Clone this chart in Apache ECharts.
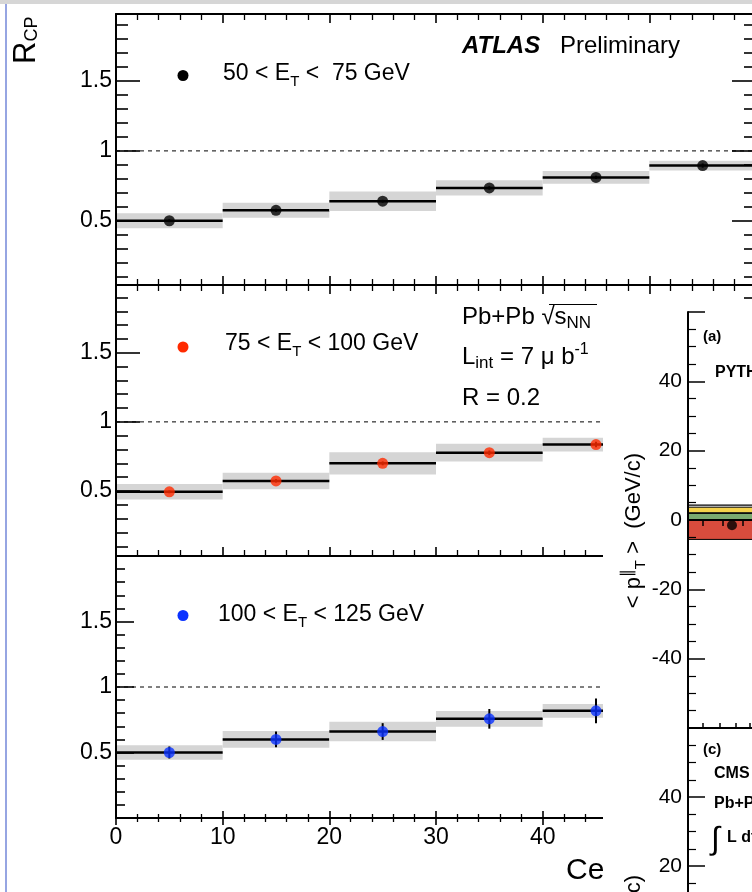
<!DOCTYPE html>
<html><head><meta charset="utf-8">
<script src="https://cdn.jsdelivr.net/npm/echarts@6/dist/echarts.min.js"></script>
<style>html,body{margin:0;padding:0;background:#fff}#c{width:752px;height:892px}</style>
</head><body><div id="c"></div>
<script>
// ---------- data ----------
const binLo  = [0, 10, 20, 30, 40, 50];
const binHi  = [10, 20, 30, 40, 50, 60];
const binMid = [5, 15, 25, 35, 45, 55];

const rcpEt50  = [0.50, 0.575, 0.64, 0.735, 0.81, 0.895];
const sysEt50  = [0.053, 0.054, 0.07, 0.055, 0.046, 0.035];
const statEt50 = [0.01, 0.01, 0.01, 0.012, 0.012, 0.015];

const rcpEt75  = [0.494, 0.573, 0.70, 0.777, 0.836];
const sysEt75  = [0.056, 0.06, 0.08, 0.064, 0.05];
const statEt75 = [0.01, 0.012, 0.014, 0.016, 0.02];

const rcpEt100  = [0.50, 0.60, 0.66, 0.757, 0.818];
const sysEt100  = [0.056, 0.064, 0.074, 0.06, 0.053];
const statEt100 = [0.046, 0.06, 0.064, 0.075, 0.095];

const yMajorTicks = [0.5, 1, 1.5];
const yMinorTicks = [0.1,0.2,0.3,0.4,0.6,0.7,0.8,0.9,1.1,1.2,1.3,1.4,1.6,1.7,1.8,1.9];
const xTickLabels = [0, 10, 20, 30, 40, 50, 60];

// CMS inset (partly visible)
const cmsYLabelsA = [-40, -20, 0, 20, 40];
const cmsYLabelsC = [20, 40];
const cmsBandLo = [-5.6, 0, 2.1];
const cmsBandHi = [0, 1.9, 3.7];
const cmsLineVals = [4.3];
const cmsPointX = [2.2];
const cmsPointY = [-1.5];
const cmsTopTicks = [0.75, 1.75, 2.75, 3.75];
const cmsMidTicks = [0.75, 1.6, 2.4, 3.1];

// ---------- style ----------
const FONT = '"Liberation Sans", Arial, Helvetica, sans-serif';
const bandColors = ['#d84c3d', '#7ba96f', '#f5d24a'];

const chart = echarts.init(document.getElementById('c'), null, {renderer: 'canvas', width: 752, height: 892});

const grids = [], xAxes = [], yAxes = [], series = [];
function mkGrid(o) {
  return Object.assign({show: false, containLabel: false, outerBoundsMode: 'none'}, o);
}

function bandRender(params, api) {
  const lo = api.value(0), hi = api.value(1), v = api.value(2), s = api.value(3);
  const a = api.coord([lo, v + s]), b = api.coord([hi, v - s]);
  const l1 = api.coord([lo, v]), l2 = api.coord([hi, v]);
  return {type: 'group', children: [
    {type: 'rect', shape: {x: a[0], y: a[1], width: b[0] - a[0], height: b[1] - a[1]}, style: {fill: '#d5d5d5'}},
    {type: 'line', shape: {x1: l1[0], y1: l1[1], x2: l2[0], y2: l2[1]}, style: {stroke: '#000', lineWidth: 2.5}}
  ]};
}
function errRender(params, api) {
  const x = api.value(0), v = api.value(1), e = api.value(2);
  const p1 = api.coord([x, v + e]), p2 = api.coord([x, v - e]);
  return {type: 'line', shape: {x1: p1[0], y1: p1[1], x2: p2[0], y2: p2[1]}, style: {stroke: '#000', lineWidth: 2}};
}

function addPanel(p, vals, sys, stat, color) {
  const gi = grids.length;
  grids.push(mkGrid({left: 116, top: p.top, width: 640, height: p.height}));
  const axisLine = {show: true, lineStyle: {color: '#000', width: 2}};
  const tickStyle = {color: '#000', width: 1.6};
  const xBase = {type: 'value', gridIndex: gi, min: 0, max: 60, interval: 10, z: 10,
    axisLine, splitLine: {show: false}, minorSplitLine: {show: false},
    axisTick: {show: true, inside: true, length: p.xMaj, lineStyle: tickStyle},
    minorTick: {show: true, splitNumber: 5, length: p.xMin, lineStyle: {color: '#000', width: 1.3}}};
  const xb = xAxes.length;
  xAxes.push(Object.assign({}, xBase, {position: 'bottom',
    axisLabel: {show: p.showX, customValues: xTickLabels, fontSize: 23, fontFamily: FONT, color: '#000', margin: 8}}));
  xAxes.push(Object.assign({}, xBase, {position: 'top', axisLabel: {show: false}}));
  const yBase = {type: 'value', gridIndex: gi, min: p.min, max: p.max, z: 10, splitLine: {show: false}};
  const yl = yAxes.length;
  yAxes.push(Object.assign({}, yBase, {position: 'left', axisLine,
    axisTick: {show: true, inside: true, length: p.yMaj, customValues: yMajorTicks, lineStyle: tickStyle},
    axisLabel: {show: true, customValues: yMajorTicks, fontSize: 23, fontFamily: FONT, color: '#000', margin: 4,
      formatter: v => String(v)}}));
  yAxes.push(Object.assign({}, yBase, {position: 'left', axisLine: {show: false},
    axisTick: {show: true, inside: true, length: p.yMin, customValues: yMinorTicks, lineStyle: tickStyle},
    axisLabel: {show: false}}));
  yAxes.push(Object.assign({}, yBase, {position: 'right', axisLine,
    axisTick: {show: true, inside: true, length: p.yMaj, customValues: yMajorTicks, lineStyle: tickStyle},
    axisLabel: {show: false}}));
  yAxes.push(Object.assign({}, yBase, {position: 'right', axisLine: {show: false},
    axisTick: {show: true, inside: true, length: p.yMin, customValues: yMinorTicks, lineStyle: tickStyle},
    axisLabel: {show: false}}));

  series.push({type: 'custom', xAxisIndex: xb, yAxisIndex: yl, renderItem: bandRender, silent: true, z: 2,
    data: vals.map((v, i) => [binLo[i], binHi[i], v, sys[i]])});
  series.push({type: 'line', xAxisIndex: xb, yAxisIndex: yl, data: [[0, 1], [60, 1]], symbol: 'none', silent: true, z: 3,
    lineStyle: {color: '#000', width: 1, type: [4, 4]}});
  series.push({type: 'custom', xAxisIndex: xb, yAxisIndex: yl, renderItem: errRender, silent: true, z: 4,
    data: vals.map((v, i) => [binMid[i], v, stat[i]])});
  series.push({type: 'scatter', xAxisIndex: xb, yAxisIndex: yl, symbolSize: 11, silent: true, z: 5,
    itemStyle: {color: color}, data: vals.map((v, i) => [binMid[i], v])});
}

addPanel({top: 14, height: 271, min: 0.04, max: 1.98, yMaj: 24, yMin: 12, xMaj: 9, xMin: 6, showX: false},
  rcpEt50, sysEt50, statEt50, '#000000');
addPanel({top: 285, height: 271, min: 0.03, max: 1.99, yMaj: 24, yMin: 12, xMaj: 9, xMin: 6, showX: false},
  rcpEt75, sysEt75, statEt75, '#ff2a00');
addPanel({top: 556, height: 262, min: 0, max: 2.0, yMaj: 18, yMin: 9, xMaj: 7, xMin: 4, showX: true},
  rcpEt100, sysEt100, statEt100, '#0a32ff');

// ---------- CMS inset (overlaid, zlevel 1) ----------
const cmsAxisLine = {show: true, lineStyle: {color: '#000', width: 2}};
const giA = grids.length;
grids.push(mkGrid({left: 688, top: 312, width: 160, height: 416}));
const giC = grids.length;
grids.push(mkGrid({left: 688, top: 728, width: 160, height: 207}));
const cxA = xAxes.length;
xAxes.push({type: 'value', gridIndex: giA, position: 'top', min: 0, max: 8, zlevel: 1, z: 5, axisLine: cmsAxisLine,
  axisTick: {show: true, inside: true, length: 6, customValues: cmsTopTicks, lineStyle: {color: '#000', width: 1.5}},
  axisLabel: {show: false}, splitLine: {show: false}});
xAxes.push({type: 'value', gridIndex: giA, position: 'bottom', min: 0, max: 8, zlevel: 1, z: 5, axisLine: cmsAxisLine,
  axisTick: {show: true, inside: true, length: 5, customValues: cmsMidTicks, lineStyle: {color: '#000', width: 1.5}},
  axisLabel: {show: false}, splitLine: {show: false}});
const cxC = xAxes.length;
xAxes.push({type: 'value', gridIndex: giC, position: 'top', min: 0, max: 8, zlevel: 1, z: 5, axisLine: cmsAxisLine,
  axisTick: {show: true, inside: true, length: 5, customValues: cmsMidTicks, lineStyle: {color: '#000', width: 1.5}},
  axisLabel: {show: false}, splitLine: {show: false}});
const cyA = yAxes.length;
yAxes.push({type: 'value', gridIndex: giA, position: 'left', min: -60, max: 60, interval: 20, zlevel: 1, z: 5,
  axisLine: cmsAxisLine, splitLine: {show: false},
  axisTick: {show: true, inside: true, length: 17, lineStyle: {color: '#000', width: 1.5}},
  minorTick: {show: true, splitNumber: 4, length: 8, lineStyle: {color: '#000', width: 1.2}},
  axisLabel: {show: true, customValues: cmsYLabelsA, fontSize: 21, fontFamily: FONT, color: '#000', margin: 6}});
const cyC = yAxes.length;
yAxes.push({type: 'value', gridIndex: giC, position: 'left', min: 0, max: 60, interval: 20, zlevel: 1, z: 5,
  axisLine: cmsAxisLine, splitLine: {show: false},
  axisTick: {show: true, inside: true, length: 17, lineStyle: {color: '#000', width: 1.5}},
  minorTick: {show: true, splitNumber: 4, length: 8, lineStyle: {color: '#000', width: 1.2}},
  axisLabel: {show: true, customValues: cmsYLabelsC, fontSize: 21, fontFamily: FONT, color: '#000', margin: 6}});

series.push({type: 'custom', xAxisIndex: cxA, yAxisIndex: cyA, zlevel: 1, z: 3, silent: true,
  data: cmsBandLo.map((lo, i) => [lo, cmsBandHi[i], i]),
  renderItem: (params, api) => {
    const a = api.coord([0, api.value(1)]), b = api.coord([8, api.value(0)]);
    return {type: 'rect', shape: {x: a[0], y: a[1], width: b[0] - a[0], height: b[1] - a[1]},
      style: {fill: bandColors[api.value(2)], stroke: '#000', lineWidth: 1}};
  }});
series.push({type: 'line', xAxisIndex: cxA, yAxisIndex: cyA, zlevel: 1, z: 4, symbol: 'none', silent: true,
  data: [[0, 0], [8, 0]], lineStyle: {color: '#000', width: 1, type: [4, 3]}});
series.push({type: 'line', xAxisIndex: cxA, yAxisIndex: cyA, zlevel: 1, z: 4, symbol: 'none', silent: true,
  data: [[0, cmsLineVals[0]], [8, cmsLineVals[0]]], lineStyle: {color: '#000', width: 1.2}});
series.push({type: 'scatter', xAxisIndex: cxA, yAxisIndex: cyA, zlevel: 1, z: 6, symbolSize: 10, silent: true,
  itemStyle: {color: '#000'}, data: cmsPointX.map((x, i) => [x, cmsPointY[i]])});

// ---------- texts ----------
function rs(fs, lh, va, extra) {
  return Object.assign({fontSize: fs, fontFamily: FONT, fill: '#000', lineHeight: lh, verticalAlign: va}, extra || {});
}
function txt(x, y, text, o) {
  o = o || {};
  const st = {text, fill: '#000', fontFamily: FONT, fontSize: o.fs || 23, fontWeight: o.fw || 'normal',
    fontStyle: o.fst || 'normal', align: o.align || 'left', verticalAlign: 'middle',
    textAlign: o.align || 'left', textVerticalAlign: 'middle'};
  if (o.rich) st.rich = o.rich;
  return {type: 'text', x, y, rotation: o.rot || 0, zlevel: o.zlevel || 0, z: o.z || 100, silent: true, style: st};
}
const richMain = {n: rs(23, 30, 'middle'), sub: rs(15, 10, 'bottom'), sup: rs(15, 10, 'top')};
const richBig = {n: rs(24, 30, 'middle'), sub: rs(17, 12, 'bottom'), sup: rs(16, 12, 'top')};
const richCms = {n: rs(22, 28, 'middle'), sub: rs(15, 10, 'bottom'), sup: rs(16, 10, 'top')};

const graphic = [
  {type: 'rect', shape: {x: 0, y: 0, width: 752, height: 4}, style: {fill: '#d6d6d6'}, silent: true},
  {type: 'line', shape: {x1: 6, y1: 4, x2: 6, y2: 892}, style: {stroke: '#7387d8', lineWidth: 1.5}, silent: true},
  {type: 'text', x: 26, y: 64, rotation: Math.PI / 2, silent: true,
    style: {text: '{n|R}{sub|CP}', align: 'left', verticalAlign: 'middle', textAlign: 'left', textVerticalAlign: 'middle',
      rich: {n: rs(31, 30, 'middle'), sub: rs(18, 12, 'bottom')}}},
  // legends
  {type: 'circle', shape: {cx: 183, cy: 75.5, r: 5.5}, style: {fill: '#000'}, silent: true},
  txt(223, 74, '{n|50 < E}{sub|T}{n| <  75 GeV}', {rich: richMain}),
  {type: 'circle', shape: {cx: 183, cy: 347, r: 5.5}, style: {fill: '#ff2a00'}, silent: true},
  txt(225, 344, '{n|75 < E}{sub|T}{n| < 100 GeV}', {rich: richMain}),
  {type: 'circle', shape: {cx: 183, cy: 615.5, r: 5.5}, style: {fill: '#0a32ff'}, silent: true},
  txt(218, 615, '{n|100 < E}{sub|T}{n| < 125 GeV}', {rich: richMain}),
  // ATLAS labels
  txt(462, 46, 'ATLAS', {fs: 24, fw: 'bold', fst: 'italic'}),
  txt(560, 46, 'Preliminary', {fs: 24}),
  txt(462, 317, '{n|Pb+Pb \u221As}{sub|NN}', {rich: richBig}),
  {type: 'line', shape: {x1: 549, y1: 304.5, x2: 597, y2: 304.5}, style: {stroke: '#000', lineWidth: 1.2}, silent: true},
  txt(462, 357, '{n|L}{sub|int}{n| = 7 \u03bc b}{sup|-1}', {rich: richBig}),
  txt(462, 398, 'R = 0.2', {fs: 24}),
  txt(566, 871, 'Centrality [%]', {fs: 30}),
  // CMS overlay
  {type: 'rect', shape: {x: 603, y: 302, width: 149, height: 590}, style: {fill: '#fff'}, zlevel: 1, z: 0, silent: true},
  txt(634, 453, '{n|< p}{sup|\u2225}{sub|T}{n| >  (GeV/c)}', {rich: richCms, rot: Math.PI / 2, align: 'right', zlevel: 1}),
  txt(634, 875, '{n|< p}{sup|\u2225}{sub|T}{n| >  (GeV/c)}', {rich: richCms, rot: Math.PI / 2, align: 'right', zlevel: 1}),
  txt(703, 336.5, '(a)', {fs: 15, fw: 'bold', zlevel: 1}),
  txt(715, 373, 'PYTHIA', {fs: 16, fw: 'bold', zlevel: 1}),
  txt(703, 749.5, '(c)', {fs: 15, fw: 'bold', zlevel: 1}),
  txt(714, 774, 'CMS', {fs: 16, fw: 'bold', zlevel: 1}),
  txt(714, 804, 'Pb+Pb', {fs: 16, fw: 'bold', zlevel: 1}),
  txt(711, 840, '\u222B', {fs: 32, zlevel: 1}),
  txt(727, 837.5, 'L dt', {fs: 16, fw: 'bold', zlevel: 1})
];

chart.setOption({
  animation: false,
  backgroundColor: '#fff',
  grid: grids, xAxis: xAxes, yAxis: yAxes, series, graphic
});
</script></body></html>
